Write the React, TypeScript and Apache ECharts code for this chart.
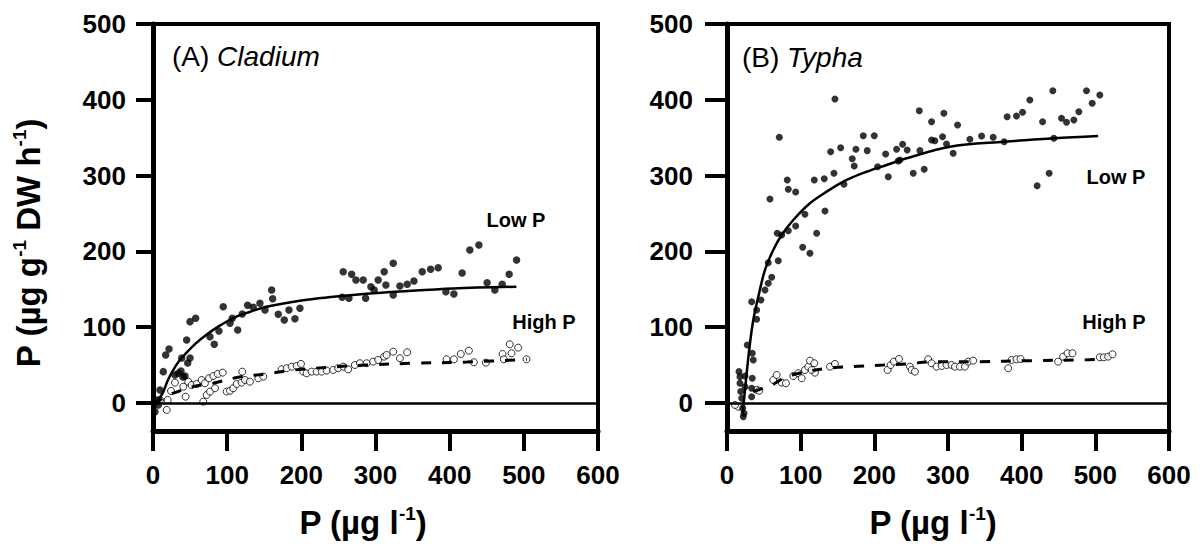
import React, { useEffect, useRef } from "react";
import * as echarts from "echarts";

const FONT = "'Liberation Sans', Arial, sans-serif";

const xTicks = [0, 100, 200, 300, 400, 500, 600];
const yTicks = [0, 100, 200, 300, 400, 500];

// (A) Cladium, Low P (filled points)
const cladiumLow: [number, number][] = [
  [2.7, -11.5], [7.1, -2.6], [5, 4], [9.4, 17.2], [13.9, 41.3], [17.1, 63.3], [21.6, 71.2],
  [29.6, 37], [34.1, 39.2], [37.7, 42.2], [40.4, 34.3], [38.7, 59.4], [43.1, 35.6], [45.4, 83.1],
  [46.8, 52.8], [49.9, 59.4], [49.9, 107.3], [57.5, 111.7], [76.8, 87.5], [82.6, 77.4], [88.9, 95],
  [94.7, 127], [103.8, 105.1], [106.9, 111.7], [114.2, 96.3], [120.4, 117.4], [127.6, 128.9],
  [135.2, 126.3], [144.2, 131.5], [151, 122.7], [160, 149], [161.3, 137.6], [168.9, 117], [177, 109.5],
  [183.3, 122.7], [191.4, 111.2], [198.1, 125], [256.5, 173.2], [267.8, 169.8], [273.6, 162.3],
  [283.4, 162.3], [255.1, 139.4], [264.2, 138.1], [286.7, 138.1], [293.8, 153.4], [298.2, 149.1],
  [303.6, 162.3], [311.7, 173.2], [314, 155.7], [323.9, 184.3], [323.9, 142.5], [332.9, 154.4],
  [342.7, 156.6], [351.8, 160.9], [363, 173.2], [374.3, 176.4], [384.5, 178.5], [394.9, 146.8],
  [405.7, 143.8], [416.8, 171.5], [427.2, 201.8], [439.4, 208.4], [450.5, 158.7], [460.9, 149.1],
  [470.8, 156.6], [480.2, 169.8], [490.2, 188.7],
];

// (A) Cladium, High P (open circles)
const cladiumHigh: [number, number][] = [
  [9.4, 4], [18.5, -9.2], [19.8, 4], [24.3, 15.8], [29.6, 26.8], [40.9, 21.5], [44, 8.3], [47.6, 28],
  [52.1, 23.7], [58.9, 25], [65.6, 30.3], [70, 26], [75.5, 32.6], [81.3, 35.6], [87.2, 38.3], [94, 40],
  [67.8, 1.7], [72.4, 10.6], [76.8, 15], [83.6, 19.4], [99.3, 15], [103.8, 16.2], [108.2, 19.4],
  [112.8, 25], [119.5, 26.8], [124, 30.3], [120.4, 41.3], [130.7, 28.1], [142, 32.6], [148.7, 34.7],
  [173.4, 44.4], [180.2, 45.8], [187, 47.9], [193.7, 48.8], [199.5, 51.5], [202.6, 41.3], [207.1, 39.2],
  [213.9, 41.3], [220.6, 41.3], [227.4, 41.3], [234.1, 42.6], [243, 43.5], [249.7, 45.8], [256.5, 47.9],
  [263.2, 44.3], [272.2, 50.1], [279, 52.4], [288, 52.4], [296.9, 54.5], [303.6, 56.7], [311.7, 61.1],
  [315, 63.3], [323.9, 67.7], [332.9, 59], [342.7, 66.9], [395.8, 57.6], [405.7, 57.6], [415, 64.6],
  [425.9, 69], [432.6, 53.7], [448.8, 53.2], [471.3, 64.6], [473, 57.6], [481, 77.4], [483.4, 65.6],
  [492.3, 73], [503.6, 57.6],
];

// fitted curves
const cladiumLowFit: [number, number][] = [
  [1, -8], [6, 2], [13.5, 14], [20, 30], [27, 43], [35, 55], [45, 66], [57, 78], [72, 90], [90, 102],
  [108, 112], [130, 120], [153, 127], [198, 135], [243, 140], [288, 144], [333, 147], [405, 151], [490, 153.4],
];
const cladiumHighFit: [number, number][] = [
  [2, -3], [16, 8], [54, 21.5], [81, 26], [115, 34], [151, 38], [182, 42.6], [218, 45.8], [250, 48],
  [286, 50], [350, 52.4], [423, 54], [504, 57.6],
];

// (B) Typha, Low P (filled points)
const typhaLow: [number, number][] = [
  [146.5, 401], [71, 350.5], [261, 385.6], [81.8, 294.2], [83.2, 281.9], [93.2, 278.4], [58.3, 269.1],
  [118.5, 294.2], [132, 295.9], [145.2, 303], [140.7, 331.5], [154.3, 336.8], [158.8, 288.5], [170, 322.3],
  [172.7, 312.7], [175, 334.7], [185, 352.6], [199.9, 352.6], [190.4, 332.9], [204.5, 311.7], [215.3, 328.5],
  [218.9, 298.5], [230.2, 334.7], [232.4, 319.3], [238.4, 341.3], [244.6, 333.8], [252.8, 303], [105.8, 248.9],
  [133, 253.3], [93.2, 233.5], [83.2, 227.3], [121.7, 223.9], [102.7, 205.4], [112.6, 197.5], [68.2, 223.9],
  [74.2, 221.6], [56, 185.1], [69.6, 187.7], [60.7, 165.8], [56, 157.9], [51.6, 149.1], [46.1, 135.9],
  [33.5, 133.6], [40.3, 122.7], [40.3, 110.4], [27.5, 76.5], [34.3, 65.6], [35.7, 56.7], [16.3, 41.3],
  [24.4, 35.6], [34.3, 32.6], [17.6, 26], [33.5, 19.4], [18.6, 15], [33.5, 8.3], [20, 6.2], [21.3, -7],
  [23.1, -13.6], [22.1, -18], [17.6, 34.7], [24.4, 21.5], [277.7, 371.1], [294.4, 382.2], [313, 366.8],
  [261.9, 332.9], [277.7, 347], [282.2, 346], [292.6, 351.3], [298, 341.7], [307, 329.4], [329.7, 347.9],
  [345.6, 352.2], [361.3, 350.5], [267.7, 308.3], [380.3, 377.7], [393, 378.6], [401.2, 383.5],
  [411.1, 399.7], [428.4, 371.1], [442.3, 412], [454.1, 375.6], [460.9, 370.3], [470.8, 373.4],
  [477.6, 384.3], [488, 412], [495.7, 395.4], [506.1, 406.3], [421, 286.7], [437.3, 303], [376.3, 344.7],
  [443.7, 349.2], [234.7, 320.6],
];

// (B) Typha, High P (open circles)
const typhaHigh: [number, number][] = [
  [15.3, -5], [10.9, -2.6], [40.3, 17.2], [43.8, 16.2], [62.8, 30.3], [67.4, 36.9], [74.2, 26.8], [80, 26],
  [90, 35.6], [96.7, 39.2], [101.4, 32.6], [105.8, 43.5], [110.3, 47.9], [112.6, 55.8], [118.5, 52.4],
  [119.4, 40], [114.9, 43.5], [139.8, 47.9], [146.5, 51.5], [218, 43.5], [222.1, 50], [226.6, 54.5],
  [233.4, 58], [248.3, 47.9], [250.6, 43.5], [255.1, 41.3], [273.1, 57.6], [277.7, 52.4], [284.5, 47.9],
  [291.3, 48.8], [298, 50.1], [304.9, 50.1], [309.4, 47.9], [316.1, 47.9], [322.9, 47.9], [327.4, 54.5],
  [334.2, 55.8], [381.7, 45.8], [386.3, 56.7], [393, 57.6], [398.5, 58], [449.5, 54.5], [456.3, 61.1],
  [462.2, 65.6], [469, 65.6], [506.1, 60.3], [511.5, 60.3], [517.4, 61.1], [523.3, 64.2],
];

const typhaLowFit: [number, number][] = [
  [21.3, -13.6], [26.7, 39.2], [31.2, 78.8], [35.7, 109.5], [42.5, 140.2], [51.6, 175.5], [62.8, 201.8],
  [74.2, 221.6], [90, 241.4], [112.6, 263.5], [135.3, 278.8], [162.4, 294.2], [189.6, 305.1], [216.7, 314],
  [243.8, 322.8], [302.6, 338.1], [376.3, 344.7], [443.7, 349.2], [503.8, 352.2],
];
const typhaHighFit: [number, number][] = [
  [35.7, 15], [60.7, 23.7], [81, 34.7], [108, 41.3], [140, 46], [178, 48.5], [212, 50], [244, 51.5],
  [280, 54.5], [343, 54.5], [411, 55.8], [479, 56.7], [511, 57.6],
];

const BLACK = "#000";
const axisLineStyle = { color: BLACK, width: 5 };

function makeX(gridIndex: number) {
  return {
    type: "value",
    gridIndex,
    min: 0,
    max: 600,
    interval: 100,
    axisLine: { show: true, onZero: false, lineStyle: axisLineStyle },
    axisTick: { show: true, inside: false, length: 20, customValues: xTicks, lineStyle: { color: BLACK, width: 4 } },
    axisLabel: {
      customValues: xTicks,
      margin: 31,
      color: BLACK,
      fontSize: 26,
      fontWeight: "bold",
      fontFamily: FONT,
    },
    splitLine: { show: false },
  };
}

function makeY(gridIndex: number, tickLen: number, margin: number) {
  return {
    type: "value",
    gridIndex,
    min: -37,
    max: 500,
    axisLine: { show: true, onZero: false, lineStyle: axisLineStyle },
    axisTick: { show: true, inside: false, length: tickLen, customValues: yTicks, lineStyle: { color: BLACK, width: 4 } },
    axisLabel: {
      customValues: yTicks,
      margin,
      color: BLACK,
      fontSize: 26,
      fontWeight: "bold",
      fontFamily: FONT,
    },
    splitLine: { show: false },
  };
}

const zeroLine = {
  silent: true,
  symbol: "none",
  label: { show: false },
  lineStyle: { color: BLACK, width: 2.5, type: "solid" },
  data: [{ yAxis: 0 }],
};

function filled(idx: number, data: [number, number][], size: number) {
  return {
    type: "scatter",
    xAxisIndex: idx,
    yAxisIndex: idx,
    data,
    symbol: "circle",
    symbolSize: size,
    itemStyle: { color: BLACK },
    z: 4,
  };
}

function open(idx: number, data: [number, number][], size: number) {
  return {
    type: "scatter",
    xAxisIndex: idx,
    yAxisIndex: idx,
    data,
    symbol: "circle",
    symbolSize: size,
    itemStyle: { color: "#fff", borderColor: BLACK, borderWidth: 1 },
    z: 3,
  };
}

function fit(idx: number, data: [number, number][], dashed: boolean, withZero: boolean) {
  return {
    type: "line",
    xAxisIndex: idx,
    yAxisIndex: idx,
    data,
    smooth: 0.35,
    showSymbol: false,
    symbol: "none",
    lineStyle: { color: BLACK, width: dashed ? 3 : 2.5, type: dashed ? [10, 11] : "solid" },
    z: 5,
    markLine: withZero ? zeroLine : undefined,
  };
}

const titleRich = {
  a: { fontSize: 33, fontWeight: "bold", fontFamily: FONT, color: BLACK, lineHeight: 36 },
  s: { fontSize: 19, fontWeight: "bold", fontFamily: FONT, color: BLACK, verticalAlign: "top" },
};

const panelRich = {
  n: { fontSize: 28, fontFamily: FONT, color: BLACK },
  i: { fontSize: 28, fontFamily: FONT, fontStyle: "italic", color: BLACK },
};

function label(text: string, x: number, y: number) {
  return {
    type: "text",
    x,
    y,
    style: {
      text,
      fill: BLACK,
      font: `bold 20px ${FONT}`,
      align: "center",
      verticalAlign: "middle",
    },
  };
}

const option = {
  animation: false,
  backgroundColor: "#fff",
  grid: [
    { left: 153, right: 602, top: 24, bottom: 124, show: true, borderColor: BLACK, borderWidth: 4, backgroundColor: "transparent" },
    { left: 727, right: 31, top: 24, bottom: 124, show: true, borderColor: BLACK, borderWidth: 4, backgroundColor: "transparent" },
  ],
  xAxis: [makeX(0), makeX(1)],
  yAxis: [makeY(0, 17, 27), makeY(1, 22, 34)],
  series: [
    fit(0, cladiumLowFit, false, true),
    fit(0, cladiumHighFit, true, false),
    open(0, cladiumHigh, 7),
    filled(0, cladiumLow, 7.5),
    fit(1, typhaLowFit, false, true),
    fit(1, typhaHighFit, true, false),
    open(1, typhaHigh, 7),
    filled(1, typhaLow, 7),
  ],
  graphic: [
    {
      type: "text",
      x: 28,
      y: 243,
      rotation: Math.PI / 2,
      style: {
        text: "{a|P (µg g}{s|-1}{a| DW h}{s|-1}{a|)}",
        rich: titleRich,
        align: "center",
        verticalAlign: "middle",
      },
    },
    {
      type: "text",
      x: 363,
      y: 522,
      style: { text: "{a|P (µg l}{s|-1}{a|)}", rich: titleRich, align: "center", verticalAlign: "middle" },
    },
    {
      type: "text",
      x: 933,
      y: 522,
      style: { text: "{a|P (µg l}{s|-1}{a|)}", rich: titleRich, align: "center", verticalAlign: "middle" },
    },
    {
      type: "text",
      x: 172,
      y: 56,
      style: { text: "{n|(A) }{i|Cladium}", rich: panelRich, align: "left", verticalAlign: "middle" },
    },
    {
      type: "text",
      x: 742,
      y: 57,
      style: { text: "{n|(B) }{i|Typha}", rich: panelRich, align: "left", verticalAlign: "middle" },
    },
    label("Low P", 516, 220),
    label("High P", 544, 322),
    label("Low P", 1116, 177),
    label("High P", 1114, 322),
  ],
};

export default function App() {
  const ref = useRef<HTMLDivElement>(null);
  useEffect(() => {
    const chart = echarts.init(ref.current as HTMLDivElement, null, { renderer: "svg" });
    chart.setOption(option as any);
    return () => chart.dispose();
  }, []);
  return (
    <div
      ref={ref}
      style={{ position: "fixed", left: 0, top: 0, width: 1200, height: 555, background: "#fff" }}
    />
  );
}
